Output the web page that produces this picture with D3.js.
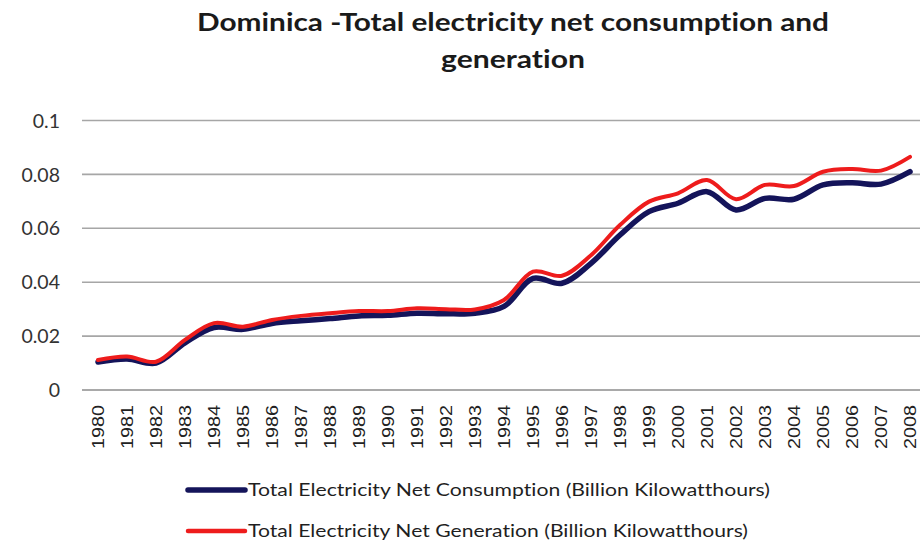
<!DOCTYPE html>
<html>
<head>
<meta charset="utf-8">
<script src="https://cdn.jsdelivr.net/npm/d3@7/dist/d3.min.js"></script>
<style>
  html, body { margin: 0; padding: 0; background: #fff; }
  svg { display: block; }
  text { font-variant-ligatures: none; }
</style>
</head>
<body>
<script>
// Dominica electricity, billion kWh, 1980–2008
const years = ["1980","1981","1982","1983","1984","1985","1986","1987","1988","1989",
  "1990","1991","1992","1993","1994","1995","1996","1997","1998","1999",
  "2000","2001","2002","2003","2004","2005","2006","2007","2008"];
const consumption = [0.0104,0.0115,0.0100,0.0175,0.0232,0.0225,0.0247,0.0257,0.0265,0.0275,
  0.0277,0.0285,0.0283,0.0285,0.0310,0.0414,0.0396,0.0470,0.0575,0.0662,
  0.0693,0.0736,0.0668,0.0711,0.0708,0.0761,0.0769,0.0764,0.0810];
const generation = [0.0111,0.0124,0.0105,0.0186,0.0248,0.0235,0.0260,0.0275,0.0285,0.0293,
  0.0293,0.0303,0.0300,0.0299,0.0334,0.0439,0.0424,0.0500,0.0612,0.0699,
  0.0730,0.0779,0.0708,0.0761,0.0757,0.0810,0.0820,0.0814,0.0865];
const yTicks = [0, 0.02, 0.04, 0.06, 0.08, 0.1];
const titleLines = ["Dominica -Total electricity net consumption and", "generation"];
const seriesNames = ["Total Electricity Net Consumption (Billion Kilowatthours)",
                     "Total Electricity Net Generation (Billion Kilowatthours)"];
const seriesColors = ["#14145a", "#ee1c1c"];

const W = 920, H = 546;
const svg = d3.select("body").append("svg").attr("width", W).attr("height", H);
svg.append("rect").attr("width", W).attr("height", H).attr("fill", "#fff");

const x = d3.scaleBand().domain(years).range([83.5, 924.5]).padding(0);
const y = d3.scaleLinear().domain([0, 0.1]).range([390, 120.5]);

// gridlines
const grid = svg.append("g");
grid.selectAll("line").data(yTicks).join("line")
  .attr("x1", 82).attr("x2", W)
  .attr("y1", d => y(d)).attr("y2", d => y(d))
  .attr("stroke", d => d === 0 ? "#8c8c8c" : "#a6a6a6")
  .attr("stroke-width", 1.6);

// y axis labels
const yAxis = svg.append("g").attr("transform", "translate(76,0)")
  .call(d3.axisLeft(y).tickValues(yTicks).tickFormat(d3.format("~g")).tickSize(0).tickPadding(0));
yAxis.select(".domain").remove();
yAxis.selectAll("text")
  .attr("font-family", "Lato, 'Open Sans', sans-serif")
  .attr("font-size", 19.5).attr("fill", "#333")
  .attr("x", -16).attr("dy", "0.34em");

// x axis labels, rotated
const xAxis = svg.append("g").attr("transform", "translate(0,390)")
  .call(d3.axisBottom(x).tickSize(0).tickPadding(0));
xAxis.select(".domain").remove();
xAxis.selectAll("text")
  .attr("font-family", "'Liberation Sans', Arial, sans-serif")
  .attr("font-size", 16).attr("fill", "#222")
  .attr("text-anchor", "end")
  .attr("transform", "rotate(-90)")
  .attr("x", -15).attr("y", 0).attr("dy", "0.35em")
  .attr("textLength", 44).attr("lengthAdjust", "spacingAndGlyphs");

// lines
const line = d3.line()
  .x((d, i) => x(years[i]) + x.bandwidth() / 2)
  .y(d => y(d))
  .curve(d3.curveCatmullRom.alpha(0.5));

svg.append("path").datum(consumption)
  .attr("d", line).attr("fill", "none")
  .attr("stroke", seriesColors[0]).attr("stroke-width", 5.5)
  .attr("stroke-linecap", "round").attr("stroke-linejoin", "round");
svg.append("path").datum(generation)
  .attr("d", line).attr("fill", "none")
  .attr("stroke", seriesColors[1]).attr("stroke-width", 4)
  .attr("stroke-linecap", "round").attr("stroke-linejoin", "round");

// title
const title = svg.append("g");
title.selectAll("text").data(titleLines).join("text")
  .attr("x", 513).attr("y", (d, i) => 31 + i * 37)
  .attr("text-anchor", "middle")
  .attr("font-family", "Lato, 'Open Sans', sans-serif")
  .attr("font-weight", "bold").attr("font-size", 25).attr("fill", "#1a1a1a")
  .text(d => d)
  .attr("textLength", (d, i) => i === 0 ? 632 : 144)
  .attr("lengthAdjust", "spacingAndGlyphs");

// legend
const legend = svg.append("g");
const legY = [490, 531];
seriesNames.forEach((name, i) => {
  legend.append("line")
    .attr("x1", 188).attr("x2", 245)
    .attr("y1", legY[i]).attr("y2", legY[i])
    .attr("stroke", seriesColors[i]).attr("stroke-width", i === 0 ? 5.5 : 4.5)
    .attr("stroke-linecap", "round");
  legend.append("text")
    .attr("x", 248).attr("y", legY[i]).attr("dy", "0.36em")
    .attr("font-family", "Lato, 'Open Sans', sans-serif")
    .attr("font-size", 17).attr("fill", "#1f1f1f")
    .text(name)
    .attr("textLength", i === 0 ? 522 : 500)
    .attr("lengthAdjust", "spacingAndGlyphs");
});
</script>
</body>
</html>
